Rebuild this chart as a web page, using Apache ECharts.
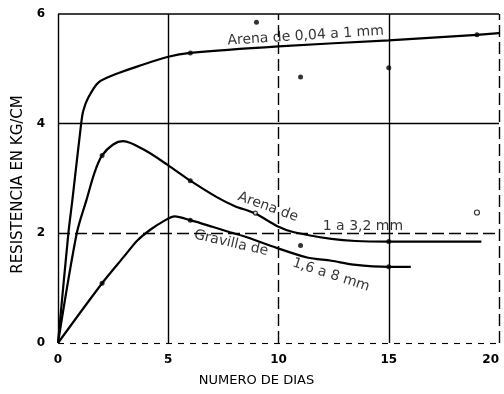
<!DOCTYPE html>
<html>
<head>
<meta charset="utf-8">
<script src="https://cdn.jsdelivr.net/npm/echarts@6/dist/echarts.min.js"></script>
<style>
html,body{margin:0;padding:0;background:#fff;}
#chart{width:504px;height:394px;}
</style>
</head>
<body>
<div id="chart"></div>
<script>
// ---- data ----
const xTicks = [0, 5, 10, 15, 20];
const yTicks = [0, 2, 4, 6];

// Arena de 0,04 a 1 mm
const arenaFina = [[0,0],[0.47,2.0],[0.65,2.6],[1.05,4.0],[1.15,4.24],[1.38,4.48],[1.83,4.75],[2.6,4.9],[3.65,5.05],[5,5.22],[6,5.29],[10,5.41],[15,5.52],[19,5.62],[20,5.65]];
const arenaFinaDots = [[6,5.29],[19,5.62]];

// Arena de 1 a 3,2 mm
const arenaMedia = [[0,0],[0.85,2.0],[1.3,2.62],[1.65,3.1],[2.0,3.42],[2.5,3.62],[2.95,3.68],[4,3.5],[5,3.24],[6,2.96],[7.2,2.66],[8,2.5],[8.95,2.36],[9.95,2.13],[10.7,2.02],[12.4,1.9],[13.5,1.86],[15,1.85],[19.2,1.85]];
const arenaMediaDots = [[2.0,3.42],[6,2.96],[15,1.85]];
const arenaMediaOpen = [[8.95,2.37]];

// Gravilla de 1,6 a 8 mm
const gravilla = [[0,0],[2.0,1.09],[3.0,1.58],[3.6,1.87],[4.2,2.07],[4.7,2.2],[5.3,2.31],[6,2.24],[7,2.12],[7.8,2.02],[8.4,1.95],[9.95,1.73],[11.3,1.56],[12.4,1.5],[13.4,1.43],[15,1.39],[16,1.39]];
const gravillaDots = [[2.0,1.09],[6,2.24],[15,1.39]];

// loose measured points
const loosePoints = [[9,5.85],[11,4.85],[15,5.02],[11,1.78]];
const looseOpen = [[19,2.38]];

// curve captions
const captionTexts = ['Arena de 0,04 a 1 mm','Arena de','1 a 3,2 mm','Gravilla de','1,6 a 8 mm'];

// ---- layout (positions / styles) ----
const captionAnchors = [[11.23,5.6],[9.52,2.48],[13.83,2.13],[7.85,1.82],[12.38,1.24]];
const captionRotate = [3.7,-20,0,-13,-18];

const INK = '#000';
const FONT = 'DejaVu Sans';

const chart = echarts.init(document.getElementById('chart'), null, {renderer:'canvas'});

function curve(data){
  return {type:'line', data:data, showSymbol:false, smooth:0.3,
    lineStyle:{color:INK,width:2.2}, z:5, silent:true};
}
function dots(data, size, open){
  return {type:'scatter', data:data, symbol:'circle', symbolSize:size,
    itemStyle: open ? {color:'#fff', borderColor:INK, borderWidth:1.2} : {color:INK},
    z:6, silent:true};
}

const gridLines = {
  type:'line', data:[], silent:true,
  markLine:{
    silent:true, symbol:['none','none'], label:{show:false},
    lineStyle:{color:INK, width:1.4, type:'solid'},
    data:[
      {yAxis:6, lineStyle:{type:'solid', width:1.6}},
      {yAxis:4, lineStyle:{type:'solid'}},
      {yAxis:2, lineStyle:{type:[12,5]}},
      {yAxis:0, lineStyle:{type:[6,6], width:1.1}},
      {xAxis:0, lineStyle:{type:'solid'}},
      {xAxis:5, lineStyle:{type:'solid'}},
      {xAxis:10, lineStyle:{type:[12,5]}},
      {xAxis:15, lineStyle:{type:'solid'}},
      {xAxis:20, lineStyle:{type:[12,5]}}
    ]
  }
};

const captions = {
  type:'scatter', silent:true, symbolSize:0, z:7,
  data: captionAnchors.map((p,i)=>({
    value:p,
    label:{show:true, position:'inside', formatter:captionTexts[i], rotate:captionRotate[i],
      color:INK, fontFamily:FONT, fontSize:14}
  }))
};

chart.setOption({
  animation:false,
  backgroundColor:'#fff',
  grid:{left:58, right:5, top:14, bottom:51},
  xAxis:{
    type:'value', min:xTicks[0], max:xTicks[xTicks.length-1], interval:5,
    name:'NUMERO DE DIAS', nameLocation:'middle', nameGap:31,
    nameTextStyle:{color:INK, fontFamily:FONT, fontSize:13, padding:[0,44,0,0]},
    axisLine:{show:false}, axisTick:{show:false}, splitLine:{show:false},
    axisLabel:{color:INK, fontFamily:FONT, fontSize:12, fontWeight:'bold', margin:11, alignMaxLabel:'right'}
  },
  yAxis:{
    type:'value', min:yTicks[0], max:yTicks[yTicks.length-1], interval:2,
    name:'RESISTENCIA EN KG/CM', nameLocation:'middle', nameGap:31,
    nameTextStyle:{color:INK, fontFamily:FONT, fontSize:15, padding:[0,12,0,0]},
    axisLine:{show:false}, axisTick:{show:false}, splitLine:{show:false},
    axisLabel:{color:INK, fontFamily:FONT, fontSize:12, fontWeight:'bold', margin:13}
  },
  series:[
    gridLines,
    curve(arenaFina), curve(arenaMedia), curve(gravilla),
    dots(arenaFinaDots,5), dots(arenaMediaDots,5), dots(arenaMediaOpen,4,true),
    dots(gravillaDots,5), dots(loosePoints,5), dots(looseOpen,5,true),
    captions
  ]
});
</script>
</body>
</html>
